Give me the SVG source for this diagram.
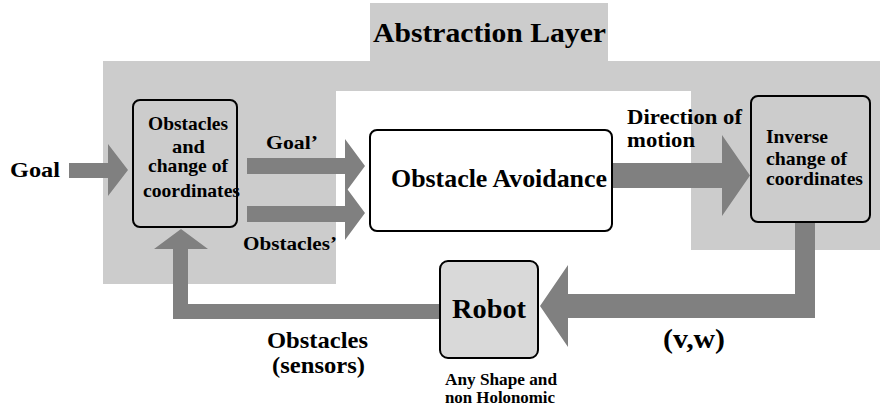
<svg xmlns="http://www.w3.org/2000/svg" width="880" height="410" viewBox="0 0 880 410">
<style>
text{font-family:"Liberation Serif","Times New Roman",Tinos,"Noto Serif","DejaVu Serif",FreeSerif,Times,serif;font-weight:bold;fill:#000}
.bg{fill:#cccccc}
.box{stroke:#000;stroke-width:2}
.arrow{fill:#808080}
</style>
<rect width="880" height="410" fill="#fff"/>
<g id="abstraction-layer">
<path class="bg" d="M370,3 H608 V61 H880 V250 H691 V91 H336 V284 H103 V61 H370 Z"/>
<text x="373" y="42" font-size="28" textLength="233" lengthAdjust="spacingAndGlyphs">Abstraction Layer</text>
</g>
<g id="connectors">
<polygon class="arrow" points="69,163 108,163 108,144 128,170 108,196 108,178 69,178"/>
<polygon class="arrow" points="247,158 345,158 345,139 365,166 345,193 345,174 247,174"/>
<polygon class="arrow" points="247,206 345,206 345,186 365,213 345,240 345,222 247,222"/>
<polygon class="arrow" points="612,163 722,163 722,135 750,175.5 722,216 722,188 612,188"/>
<polygon class="arrow" points="795,222 815,222 815,318 568,318 568,347 540,306 568,265 568,294 795,294"/>
<polygon class="arrow" points="439,304 439,319 173,319 173,249 154,249 181,229 208,249 188,249 188,304"/>
</g>
<g id="goal-label"><text x="10" y="177" font-size="21" textLength="50" lengthAdjust="spacingAndGlyphs">Goal</text></g>
<g id="goal-prime-label"><text x="266" y="149" font-size="18" textLength="52" lengthAdjust="spacingAndGlyphs">Goal’</text></g>
<g id="obstacles-prime-label"><text x="243" y="250" font-size="18" textLength="94" lengthAdjust="spacingAndGlyphs">Obstacles’</text></g>
<g id="direction-label">
<text x="627" y="124" font-size="21" textLength="115" lengthAdjust="spacingAndGlyphs">Direction of</text>
<text x="627" y="147" font-size="21" textLength="68" lengthAdjust="spacingAndGlyphs">motion</text>
</g>
<g id="vw-label"><text x="663" y="348" font-size="27" textLength="62" lengthAdjust="spacingAndGlyphs">(v,w)</text></g>
<g id="sensors-label">
<text x="267" y="348" font-size="24" textLength="101" lengthAdjust="spacingAndGlyphs">Obstacles</text>
<text x="272" y="373" font-size="24" textLength="93" lengthAdjust="spacingAndGlyphs">(sensors)</text>
</g>
<g id="change-coordinates">
<rect class="box" x="133" y="100" width="104" height="127" rx="7" fill="#cccccc"/>
<text x="148" y="130" font-size="19" textLength="80" lengthAdjust="spacingAndGlyphs">Obstacles</text>
<text x="172" y="153" font-size="19" textLength="33" lengthAdjust="spacingAndGlyphs">and</text>
<text x="148" y="172" font-size="19" textLength="80" lengthAdjust="spacingAndGlyphs">change of</text>
<text x="143" y="197" font-size="19" textLength="97" lengthAdjust="spacingAndGlyphs">coordinates</text>
</g>
<g id="obstacle-avoidance">
<rect class="box" x="370" y="130" width="242" height="101" rx="7" fill="#fff"/>
<text x="391" y="187" font-size="26" textLength="216" lengthAdjust="spacingAndGlyphs">Obstacle Avoidance</text>
</g>
<g id="inverse-change">
<rect class="box" x="751" y="96" width="119" height="126" rx="7" fill="#cccccc"/>
<text x="766" y="143" font-size="19" textLength="62" lengthAdjust="spacingAndGlyphs">Inverse</text>
<text x="766" y="165" font-size="19" textLength="81" lengthAdjust="spacingAndGlyphs">change of</text>
<text x="766" y="185" font-size="19" textLength="97" lengthAdjust="spacingAndGlyphs">coordinates</text>
</g>
<g id="robot">
<rect class="box" x="440" y="261" width="98" height="97" rx="8" fill="#d9d9d9"/>
<text x="452" y="318" font-size="28" textLength="74" lengthAdjust="spacingAndGlyphs">Robot</text>
<text x="445" y="385" font-size="17" textLength="112" lengthAdjust="spacingAndGlyphs">Any Shape and</text>
<text x="445" y="403" font-size="17" textLength="110" lengthAdjust="spacingAndGlyphs">non Holonomic</text>
</g>
</svg>
